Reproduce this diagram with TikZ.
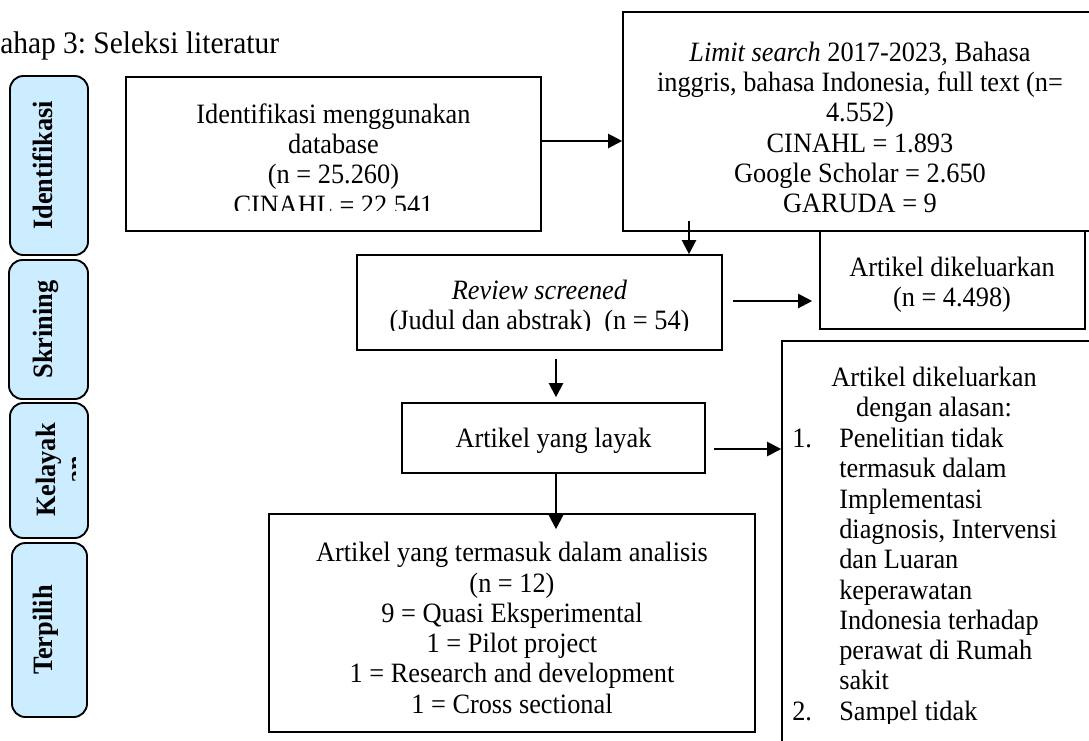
\documentclass[tikz,border=0pt]{standalone}
\usepackage{fontspec}
\setmainfont{Liberation Serif}[FakeStretch=0.94]
\usetikzlibrary{arrows.meta,fit,calc}
\definecolor{sideblue}{RGB}{204,236,255}
\newcommand{\bodyfont}{\fontsize{21}{22.7}\selectfont}
\newcommand{\titlefont}{\fontsize{23.5}{26}\selectfont}
\begin{document}
\begin{tikzpicture}[x=0.75pt,y=-0.75pt,
  box/.style={draw=black, line width=1.2pt, inner sep=0pt},
  sidebox/.style={draw=black, fill=sideblue, line width=1.4pt, rounded corners=10pt, inner sep=0pt},
  txt/.style={inner sep=0pt, align=center, font=\bodyfont},
  lbl/.style={inner sep=0pt, rotate=90, align=center, font=\bodyfont\bfseries},
  arr/.style={line width=1.6pt, -{Triangle[length=10.5pt,width=10.5pt]}}]
\useasboundingbox (0,0) rectangle (1089,740);
\clip (0,0) rectangle (1089,740);

% title
\node[txt, font=\titlefont, anchor=base west] (title) at (0,53) {ahap 3:\ Seleksi literatur};

% side stage boxes
\node[sidebox, fit={(10,76) (88,255)}] (s1) {};
\node[sidebox, fit={(9,260) (88,399)}] (s2) {};
\node[sidebox, fit={(10,403) (88,538)}] (s3) {};
\node[sidebox, fit={(12,543) (87,717)}] (s4) {};
\node[lbl, anchor=base] (l1) at (52,165.5) {Identifikasi};
\node[lbl, anchor=base] (l2) at (52,329.5) {Skrining};
\begin{scope}
  \clip (10,403) rectangle (75,538);
  \node[lbl, anchor=center] (l3) at (61,470) {Kelayak\\an};
\end{scope}
\node[lbl, anchor=base] (l4) at (52,630) {Terpilih};

% flow boxes
\node[box, fit={(126,77) (541,231)}] (b1) {};
\node[box, fit={(623,12) (1097,231)}] (b2) {};
\node[box, fit={(357,255) (722,350)}] (rev) {};
\node[box, fit={(820,231) (1085,329)}] (exc1) {};
\node[box, fit={(402,403) (705,473)}] (lay) {};
\node[box, fit={(269,514) (755,732)}] (fin) {};
\node[box, fit={(782,341) (1100,760)}] (exc2) {};

% texts
\begin{scope}
  \clip (126,77) rectangle (541,210);
  \node[txt] (t1) at (333.5,159) {Identifikasi menggunakan\\database\\(n = 25.260)\\CINAHL = 22.541};
\end{scope}
\node[txt] (t2) at (860,127.5) {\textit{Limit search} 2017-2023, Bahasa\\inggris, bahasa Indonesia, full text (n=\\4.552)\\CINAHL = 1.893\\Google Scholar = 2.650\\GARUDA = 9};
\begin{scope}
  \clip (357,255) rectangle (722,330);
  \node[txt] (t3) at (539.5,308) {\textit{Review screened}\\(Judul dan abstrak)\ \ (n = 54)};
\end{scope}
\node[txt] (t4) at (952,284.5) {Artikel dikeluarkan\\(n = 4.498)};
\node[txt] (t5) at (553.5,441) {Artikel yang layak};
\node[txt] (t6) at (512,628) {Artikel yang termasuk dalam analisis\\(n = 12)\\9 = Quasi Eksperimental\\1 = Pilot project\\1 = Research and development\\1 = Cross sectional};
\node[txt] (t7) at (934,394.5) {Artikel dikeluarkan\\dengan alasan:};
\begin{scope}
  \clip (782,341) rectangle (1089,723);
  \node[txt, align=left, anchor=north west] (t8) at (792,428) {\makebox[35.25pt][l]{1.}Penelitian tidak\\
  \hspace*{35.25pt}termasuk dalam\\
  \hspace*{35.25pt}Implementasi\\
  \hspace*{35.25pt}diagnosis, Intervensi\\
  \hspace*{35.25pt}dan Luaran\\
  \hspace*{35.25pt}keperawatan\\
  \hspace*{35.25pt}Indonesia terhadap\\
  \hspace*{35.25pt}perawat di Rumah\\
  \hspace*{35.25pt}sakit\\
  \makebox[35.25pt][l]{2.}Sampel tidak};
\end{scope}

% connectors
\draw[arr] ($(b1.east)+(0,-13)$) -- ($(b1.east -| b2.west)+(0,-13)$);
\draw[arr] ($(rev.north)+(149.5,-33)$) -- ($(rev.north)+(149.5,0)$);
\draw[arr] ($(rev.east)+(10,-1.5)$) -- ($(exc1.west)+(-7,21)$);
\draw[arr] ($(rev.south)+(16.5,8)$) -- ($(lay.north)+(2.5,-5)$);
\draw[arr] ($(lay.east)+(8,11)$) -- ($(exc2.west)+(0,-101.5)$);
\draw[arr] ($(lay.south)+(2.5,0)$) -- ($(fin.north)+(44,16)$);
\end{tikzpicture}
\end{document}
